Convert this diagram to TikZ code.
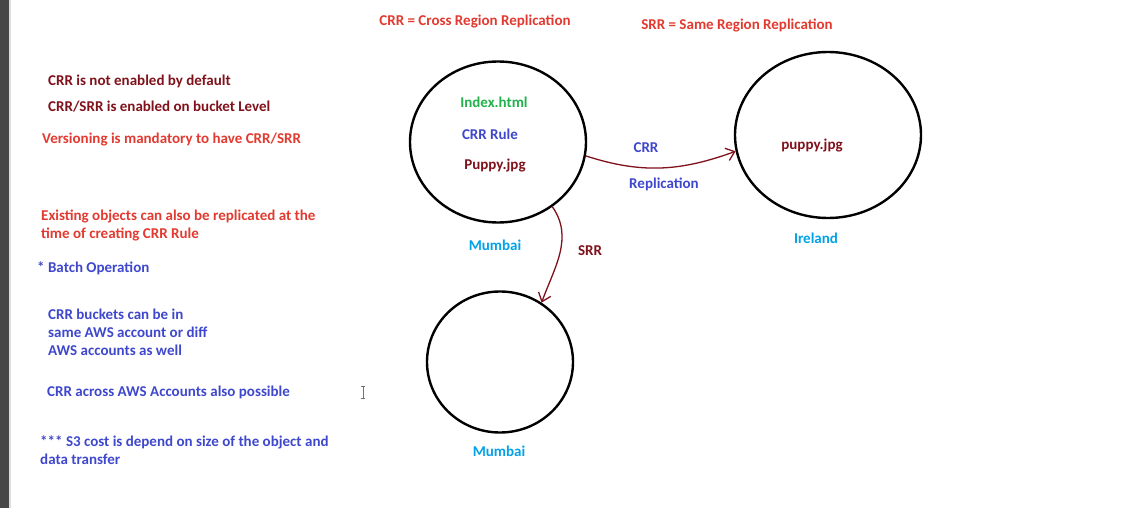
\documentclass[tikz,border=0pt]{standalone}
\usepackage{fontspec}
\setmainfont{Carlito}
\usepackage{tikz}
\usetikzlibrary{arrows.meta,positioning,shapes.geometric}

\definecolor{hdred}{RGB}{226,58,48}
\definecolor{notered}{RGB}{128,18,28}
\definecolor{noteblue}{RGB}{63,72,204}
\definecolor{objgreen}{RGB}{34,177,76}
\definecolor{regcyan}{RGB}{0,162,232}

\begin{document}
\begin{tikzpicture}[
  x=1pt, y=-1pt,
  txt/.style={font=\fontsize{15}{18}\selectfont\bfseries, inner sep=0pt},
  note/.style={txt, anchor=west, align=left},
  bucket/.style={ellipse, draw, line width=2.4pt, inner sep=0pt},
  repl/.style={draw=notered, line width=1.3pt,
               -{Straight Barb[length=8pt,width=13pt,line width=1.3pt]}},
]
  \useasboundingbox (0,0) rectangle (1144,508);
  \fill[white] (0,0) rectangle (1144,508);
  \fill[black!72] (0,0) rectangle (9,508);
  \fill[blue!8!gray!25] (9,0) rectangle (11,508);

  % headings
  \node[txt, text=hdred] (hcrr) at (475,21) {CRR = Cross Region Replication};
  \node[txt, text=hdred] (hsrr) at (737,25) {SRR = Same Region Replication};

  % notes on the left
  \node[note, text=notered] (n1) at (48,81)  {CRR is not enabled by default};
  \node[note, text=notered] (n2) at (48,107) {CRR/SRR is enabled on bucket Level};
  \node[note, text=hdred]   (n3) at (42,140) {Versioning is mandatory to have CRR/SRR};
  \node[note, text=hdred]   (n4) at (41,225) {Existing objects can also be replicated at the\\time of creating CRR Rule};
  \node[note, text=noteblue] (n5) at (37,268) {* Batch Operation};
  \node[note, text=noteblue] (n6) at (48,332) {CRR buckets can be in\\same AWS account or diff\\AWS accounts as well};
  \node[note, text=noteblue] (n7) at (47,392) {CRR across AWS Accounts also possible};
  \node[note, text=noteblue] (n8) at (40,450) {*** S3 cost is depend on size of the object and\\data transfer};

  % buckets
  \node[bucket, minimum width=176pt, minimum height=161pt] (src) at (498,142) {};
  \node[bucket, minimum width=186pt, minimum height=166pt] (irl) at (828,135) {};
  \node[bucket, minimum width=146pt, minimum height=141pt] (dst) at (500,362) {};

  \node[txt, text=objgreen] (idx)   at (494,102) {Index.html};
  \node[txt, text=noteblue] (rule)  at (490,134) {CRR Rule};
  \node[txt, text=notered]  (pup)   at (495,166) {Puppy.jpg};
  \node[txt, text=notered]  (pupc)  at (812,146) {puppy.jpg};

  \node[txt, text=regcyan] (mum1) at (495,245) {Mumbai};
  \node[txt, text=regcyan] (irel) at (816,238) {Ireland};
  \node[txt, text=regcyan] (mum2) at (499,451) {Mumbai};

  % replication arrows
  \draw[repl] (src.-9) to[out=-18,in=200] (irl.190);
  \draw[repl] (src.-50) to[out=-55,in=70] (dst.55);

  \node[txt, text=noteblue] (lcrr) at (646,148) {CRR};
  \node[txt, text=noteblue] (lrep) at (664,184) {Replication};
  \node[txt, text=notered]  (lsrr) at (590,251) {SRR};

  % text cursor
  \draw[black!55, line width=0.8pt] (361,386) -- (365,386) (363,386) -- (363,398) (361,398) -- (365,398);
\end{tikzpicture}
\end{document}
